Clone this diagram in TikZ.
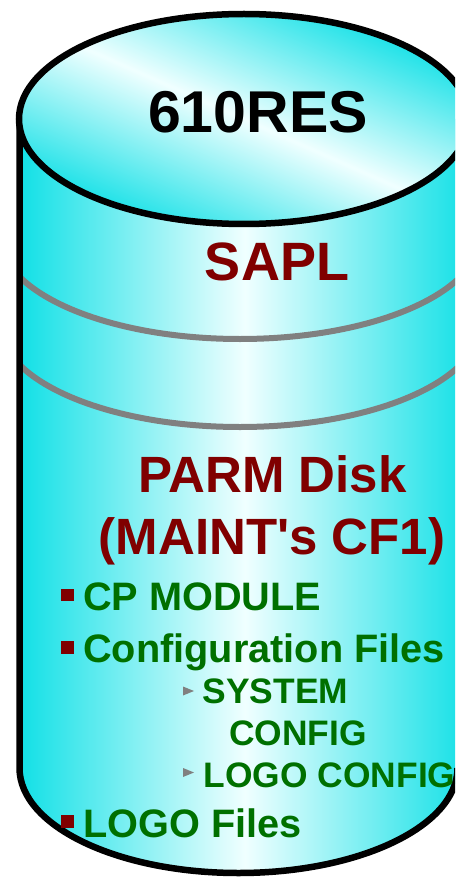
\documentclass[tikz,border=0pt]{standalone}
\usepackage{fontspec}
\setmainfont{Liberation Sans}[Ligatures=TeXOff]
\definecolor{cyanc}{RGB}{18,224,230}
\definecolor{midc}{RGB}{240,255,255}
\definecolor{dred}{RGB}{128,0,0}
\definecolor{dgreen}{RGB}{0,112,0}
\definecolor{lgray}{RGB}{128,128,128}
\begin{document}
\begin{tikzpicture}[x=1pt,y=-1pt,
  outline/.style={draw=black,line width=6.5pt},
  band/.style={draw=lgray,line width=6pt},
  titletext/.style={font=\bfseries\fontsize{59}{60}\selectfont,text=black,inner sep=0pt,anchor=base},
  redbig/.style={font=\bfseries\fontsize{54}{56}\selectfont,text=dred,inner sep=0pt,anchor=base},
  redmid/.style={font=\bfseries\fontsize{51}{53}\selectfont,text=dred,inner sep=0pt,anchor=base},
  grn/.style={font=\bfseries\fontsize{39.7}{40}\selectfont,text=dgreen,inner sep=0pt,anchor=base west},
  grnsmall/.style={font=\bfseries\fontsize{35.4}{36}\selectfont,text=dgreen,inner sep=0pt,anchor=base west},
  sqbullet/.style={fill=dred,inner sep=0pt,minimum size=12.5pt,draw=none},
  tri/.style={fill=lgray,draw=none}
]
\useasboundingbox (0,0) rectangle (455,877);
\clip (0,0) rectangle (455,877);
% body
\shade[left color=cyanc,right color=cyanc,middle color=midc]
  (19.5,119) -- (19.5,768) arc[start angle=180,end angle=0,x radius=219,y radius=105] -- (470,768) -- (470,119) -- cycle;
% gray bands
\begin{scope}
  \clip (19.5,119) -- (19.5,768) arc[start angle=180,end angle=0,x radius=219,y radius=105] -- (470,768) -- (470,119) -- cycle;
  \draw[band] (0,236) arc[start angle=180,end angle=0,x radius=240,y radius=103];
  \draw[band] (0,324) arc[start angle=180,end angle=0,x radius=240,y radius=103];
\end{scope}
% body outline
\draw[outline] (19.5,119) -- (19.5,768) arc[start angle=180,end angle=0,x radius=219,y radius=105];
% top
\shade[left color=cyanc,right color=cyanc,middle color=midc,shading angle=-24]
  (244,119) ellipse[x radius=225,y radius=105];
\draw[outline] (244,119) ellipse[x radius=225,y radius=105];
% texts
\node[titletext] (title) at (258,133) {610RES};
\node[redbig] (sapl) at (277,280) {SAPL};
\node[redmid] (parm) at (272.5,492) {PARM Disk};
\node[redmid] (maint) at (272,554) {(MAINT's CF1)};
\node[sqbullet] (b1) at (67.5,595) {};
\node[grn] (cp) at (83,610) {CP MODULE};
\node[sqbullet] (b2) at (67.5,647.5) {};
\node[grn] (cfg) at (83,662) {Configuration Files};
\fill[tri] (183,686.5) -- (194,691) -- (183,695.5) -- cycle;
\node[grnsmall] (sys) at (202.5,703) {SYSTEM};
\node[grnsmall] (cfgb) at (229,745) {CONFIG};
\fill[tri] (183,768) -- (194,772.5) -- (183,777) -- cycle;
\node[grnsmall] (logoc) at (203.5,787) {LOGO CONFIG};
\node[sqbullet] (b3) at (67.5,821.5) {};
\node[grn] (logof) at (83,837) {LOGO Files};
\end{tikzpicture}
\end{document}
